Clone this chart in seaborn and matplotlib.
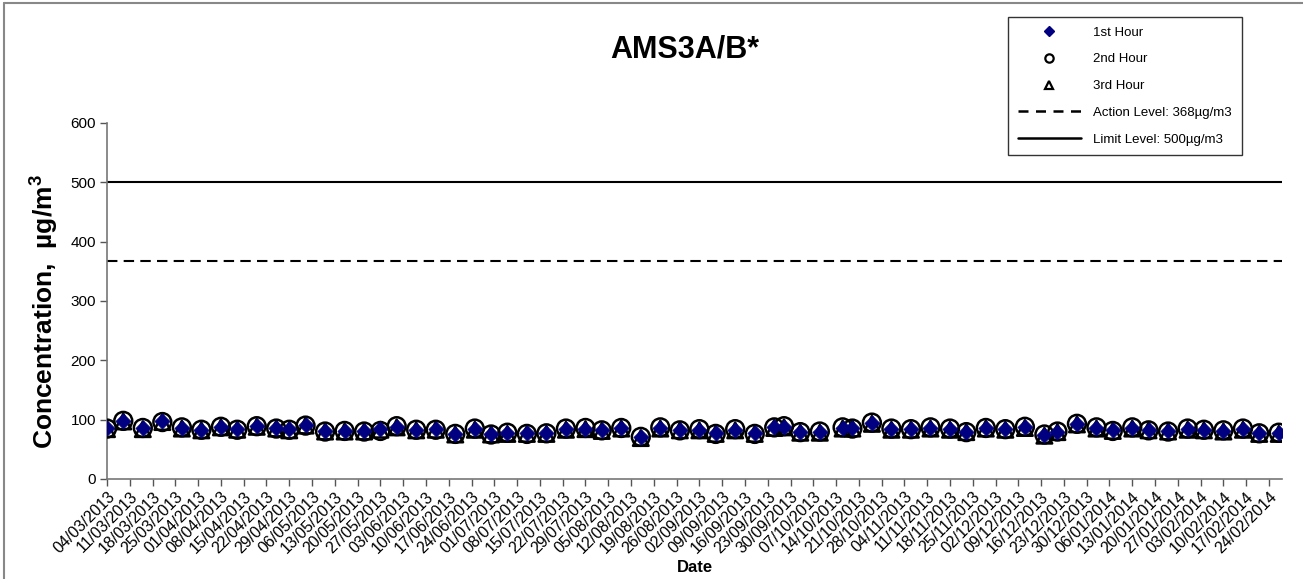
import matplotlib
matplotlib.use("Agg")
import matplotlib.pyplot as plt
from matplotlib.lines import Line2D
import seaborn as sns
import pandas as pd

# ---------------- data ----------------
dates = ["04/03/2013", "09/03/2013", "15/03/2013", "21/03/2013", "27/03/2013",
         "02/04/2013", "08/04/2013", "13/04/2013", "19/04/2013", "25/04/2013",
         "29/04/2013", "04/05/2013", "10/05/2013", "16/05/2013", "22/05/2013",
         "27/05/2013", "01/06/2013", "07/06/2013", "13/06/2013", "19/06/2013",
         "25/06/2013", "30/06/2013", "05/07/2013", "11/07/2013", "17/07/2013",
         "23/07/2013", "29/07/2013", "03/08/2013", "09/08/2013", "15/08/2013",
         "21/08/2013", "27/08/2013", "02/09/2013", "07/09/2013", "13/09/2013",
         "19/09/2013", "25/09/2013", "28/09/2013", "03/10/2013", "09/10/2013",
         "16/10/2013", "19/10/2013", "25/10/2013", "31/10/2013", "06/11/2013",
         "12/11/2013", "18/11/2013", "23/11/2013", "29/11/2013", "05/12/2013",
         "11/12/2013", "17/12/2013", "21/12/2013", "27/12/2013", "02/01/2014",
         "07/01/2014", "13/01/2014", "18/01/2014", "24/01/2014", "30/01/2014",
         "04/02/2014", "10/02/2014", "16/02/2014", "21/02/2014", "27/02/2014"]

hour1 = [86, 98, 86, 97, 86, 83, 88, 84, 89, 86, 84, 91, 81, 81, 81, 84, 88, 83, 84, 76,
         84, 76, 77, 77, 77, 84, 85, 82, 86, 70, 86, 83, 83, 77, 83, 77, 87, 88, 79, 79,
         86, 86, 94, 84, 84, 86, 84, 80, 86, 84, 87, 74, 80, 93, 86, 82, 86, 83, 81, 84,
         83, 81, 84, 77, 77]
hour2 = [85, 98, 86, 96, 87, 83, 88, 83, 89, 85, 83, 90, 80, 81, 80, 81, 89, 83, 83, 76,
         85, 75, 78, 76, 77, 85, 86, 82, 86, 71, 87, 82, 84, 76, 84, 76, 87, 89, 79, 80,
         87, 85, 95, 85, 84, 87, 85, 79, 86, 84, 88, 75, 80, 93, 87, 81, 87, 82, 80, 85,
         83, 82, 85, 77, 78]
hour3 = [84, 97, 84, 96, 85, 82, 87, 83, 88, 85, 82, 90, 80, 80, 80, 83, 87, 82, 83, 75,
         83, 75, 76, 76, 76, 83, 84, 81, 85, 69, 85, 82, 82, 76, 82, 76, 86, 87, 78, 78,
         85, 85, 93, 83, 83, 85, 83, 79, 85, 83, 86, 73, 79, 92, 85, 81, 85, 82, 80, 83,
         82, 80, 83, 76, 76]

action_level = 368
limit_level = 500
series_labels = ["1st Hour", "2nd Hour", "3rd Hour"]
action_label = "Action Level: 368µg/m3"
limit_label = "Limit Level: 500µg/m3"
title = "AMS3A/B*"
xlabel = "Date"
ylabel = "Concentration,  µg/m$^3$"
first_tick = "04/03/2013"
last_tick = "24/02/2014"
x_end = "28/02/2014"
yticks = [0, 100, 200, 300, 400, 500, 600]

# ---------------- plot ----------------
sns.set_theme(style="white")
plt.rcParams["font.family"] = ["Liberation Sans", "DejaVu Sans"]
plt.rcParams["mathtext.fontset"] = "custom"
plt.rcParams["mathtext.rm"] = "Liberation Sans:bold"
plt.rcParams["mathtext.default"] = "rm"
for k in ["text.color", "axes.labelcolor", "xtick.labelcolor", "ytick.labelcolor"]:
    plt.rcParams[k] = "black"

df = pd.DataFrame({
    "date": pd.to_datetime(dates, format="%d/%m/%Y"),
    "h1": hour1, "h2": hour2, "h3": hour3,
})

fig = plt.figure(figsize=(13.03, 5.79), dpi=100)
ax = fig.add_axes([107 / 1303, 1 - 479 / 579, (1282 - 107) / 1303, (479 - 123) / 579])

sns.scatterplot(data=df, x="date", y="h2", ax=ax, marker="o", s=165,
                facecolors="none", edgecolor="black", linewidth=1.8, zorder=3)
sns.scatterplot(data=df, x="date", y="h3", ax=ax, marker="^", s=125,
                facecolors="none", edgecolor="black", linewidth=1.8, zorder=4)
sns.scatterplot(data=df, x="date", y="h1", ax=ax, marker="D", s=60,
                color="#000080", edgecolor="#000080", linewidth=0.5, zorder=5)

ax.axhline(action_level, color="black", lw=1.5, ls=(0, (5, 3)), zorder=2)
ax.axhline(limit_level, color="black", lw=1.5, ls="-", zorder=2)

x0 = pd.to_datetime(first_tick, format="%d/%m/%Y")
x1 = pd.to_datetime(x_end, format="%d/%m/%Y")
ax.set_xlim(x0, x1)
ax.set_ylim(0, 600)

ticks = pd.date_range(x0, pd.to_datetime(last_tick, format="%d/%m/%Y"), freq="7D")
ax.set_xticks(ticks)
ax.set_xticklabels([t.strftime("%d/%m/%Y") for t in ticks], rotation=45,
                   ha="right", va="top", rotation_mode="anchor", fontsize=11.5,
                   color="black")
ax.set_yticks(yticks)
ax.tick_params(axis="y", labelsize=11, direction="out", length=5, width=1,
               color="#555555", left=True, pad=3, labelcolor="black")
ax.tick_params(axis="x", direction="out", length=5, width=1, color="#555555",
               bottom=True, pad=2, labelcolor="black")

for side in ["top", "right"]:
    ax.spines[side].set_visible(False)
for side in ["left", "bottom"]:
    ax.spines[side].set_color("#777777")
    ax.spines[side].set_linewidth(1.2)

ax.set_xlabel(xlabel, fontsize=12, fontweight="bold", color="black")
ax.xaxis.set_label_coords(0.5, (479 - 568) / 356)
ax.xaxis.label.set_va("center")
ax.set_ylabel(ylabel, fontsize=19, fontweight="bold", color="black")
ax.yaxis.set_label_coords((45 - 107) / 1175, (479 - 312) / 356)
ax.yaxis.label.set_va("center")
fig.text(685 / 1303, 1 - 50 / 579, title, fontsize=22, fontweight="bold",
         ha="center", va="center", color="black")

handles = [
    Line2D([], [], ls="none", marker="D", ms=5.5, color="#000080"),
    Line2D([], [], ls="none", marker="o", ms=6, mfc="none", mec="black", mew=1.6),
    Line2D([], [], ls="none", marker="^", ms=6, mfc="none", mec="black", mew=1.6),
    Line2D([], [], color="black", lw=1.8, ls=(0, (4, 3))),
    Line2D([], [], color="black", lw=1.8, ls="-"),
]
labels = series_labels + [action_label, limit_label]
leg = fig.legend(handles, labels, loc="upper left",
                 bbox_to_anchor=(1008 / 1303, 1 - 17 / 579, (1242 - 1008) / 1303, 0.0),
                 mode="expand", fontsize=9.5, handlelength=4.8, labelspacing=1.1,
                 frameon=True, fancybox=False, borderpad=0.72, handletextpad=0.9,
                 borderaxespad=0)
leg.get_frame().set_edgecolor("black")
leg.get_frame().set_linewidth(1.0)
for t in leg.get_texts():
    t.set_color("black")

# outer chart border (gray)
fig.add_artist(Line2D([3.5 / 1303, 3.5 / 1303], [0, 1 - 2.5 / 579],
                      transform=fig.transFigure, color="#888888", lw=1.5))
fig.add_artist(Line2D([3.5 / 1303, 1], [1 - 2.5 / 579, 1 - 2.5 / 579],
                      transform=fig.transFigure, color="#888888", lw=1.5))

fig.savefig("out.png", dpi=100)
